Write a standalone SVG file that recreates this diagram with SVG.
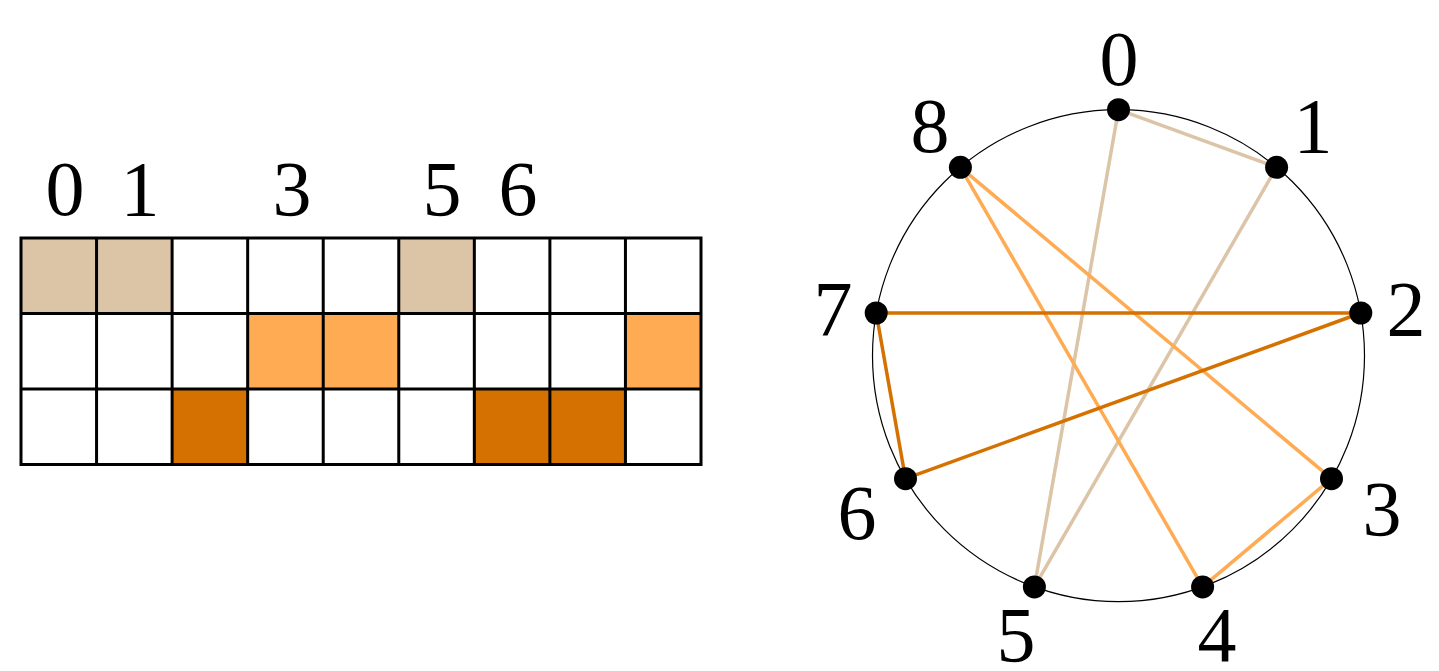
<svg xmlns="http://www.w3.org/2000/svg" width="1439" height="671" viewBox="0 0 1439 671">
<style>
.lbl{font-family:"Liberation Serif","DejaVu Serif",serif;font-size:78px;fill:#000;text-anchor:middle}
.tan{fill:#DCC4A7}
.lo{fill:#FEAB54}
.do{fill:#D57100}
.grid{stroke:#000;stroke-width:3;fill:none;stroke-linecap:square}
.e{stroke-width:3.5;fill:none}
.et{stroke:#DCC4A7}
.elo{stroke:#FEAB54}
.edo{stroke:#D57100}
.dot{fill:#000}
</style>
<rect width="1439" height="671" fill="#fff"/>
<g id="grid">
<rect class="tan" x="21" y="238" width="75.56" height="75.5"/>
<rect class="tan" x="96.56" y="238" width="75.56" height="75.5"/>
<rect class="tan" x="398.78" y="238" width="75.56" height="75.5"/>
<rect class="lo" x="247.67" y="313.5" width="75.56" height="75.5"/>
<rect class="lo" x="323.22" y="313.5" width="75.56" height="75.5"/>
<rect class="lo" x="625.44" y="313.5" width="75.56" height="75.5"/>
<rect class="do" x="172.11" y="389" width="75.56" height="75.5"/>
<rect class="do" x="474.33" y="389" width="75.56" height="75.5"/>
<rect class="do" x="549.89" y="389" width="75.56" height="75.5"/>
<path class="grid" d="M21 238H701M21 313.5H701M21 389H701M21 464.5H701M21 238V464.5M96.56 238V464.5M172.11 238V464.5M247.67 238V464.5M323.22 238V464.5M398.78 238V464.5M474.33 238V464.5M549.89 238V464.5M625.44 238V464.5M701 238V464.5"/>
<text class="lbl" x="65" y="215">0</text>
<text class="lbl" x="140" y="215">1</text>
<text class="lbl" x="292" y="215">3</text>
<text class="lbl" x="442" y="215">5</text>
<text class="lbl" x="518" y="215">6</text>
</g>
<circle cx="1118.5" cy="355.7" r="246" fill="none" stroke="#000" stroke-width="1.2"/>
<g id="connectors">
<line class="e et" x1="1118.5" y1="109.7" x2="1276.6" y2="167.3"/>
<line class="e et" x1="1118.5" y1="109.7" x2="1034.4" y2="586.9"/>
<line class="e et" x1="1276.6" y1="167.3" x2="1034.4" y2="586.9"/>
<line class="e elo" x1="960.4" y1="167.3" x2="1331.5" y2="478.7"/>
<line class="e elo" x1="960.4" y1="167.3" x2="1202.6" y2="586.9"/>
<line class="e elo" x1="1331.5" y1="478.7" x2="1202.6" y2="586.9"/>
<line class="e edo" x1="876.2" y1="313" x2="1360.8" y2="313"/>
<line class="e edo" x1="1360.8" y1="313" x2="905.5" y2="478.7"/>
<line class="e edo" x1="876.2" y1="313" x2="905.5" y2="478.7"/>
</g>
<g id="n0"><circle class="dot" cx="1118.5" cy="109.7" r="11.5"/><text class="lbl" x="1119" y="85">0</text></g>
<g id="n1"><circle class="dot" cx="1276.6" cy="167.3" r="11.5"/><text class="lbl" x="1313" y="152">1</text></g>
<g id="n2"><circle class="dot" cx="1360.8" cy="313" r="11.5"/><text class="lbl" x="1406" y="335">2</text></g>
<g id="n3"><circle class="dot" cx="1331.5" cy="478.7" r="11.5"/><text class="lbl" x="1382" y="535">3</text></g>
<g id="n4"><circle class="dot" cx="1202.6" cy="586.9" r="11.5"/><text class="lbl" x="1217" y="661">4</text></g>
<g id="n5"><circle class="dot" cx="1034.4" cy="586.9" r="11.5"/><text class="lbl" x="1016" y="661">5</text></g>
<g id="n6"><circle class="dot" cx="905.5" cy="478.7" r="11.5"/><text class="lbl" x="857" y="539">6</text></g>
<g id="n7"><circle class="dot" cx="876.2" cy="313" r="11.5"/><text class="lbl" x="833" y="335">7</text></g>
<g id="n8"><circle class="dot" cx="960.4" cy="167.3" r="11.5"/><text class="lbl" x="930" y="152">8</text></g>
</svg>
